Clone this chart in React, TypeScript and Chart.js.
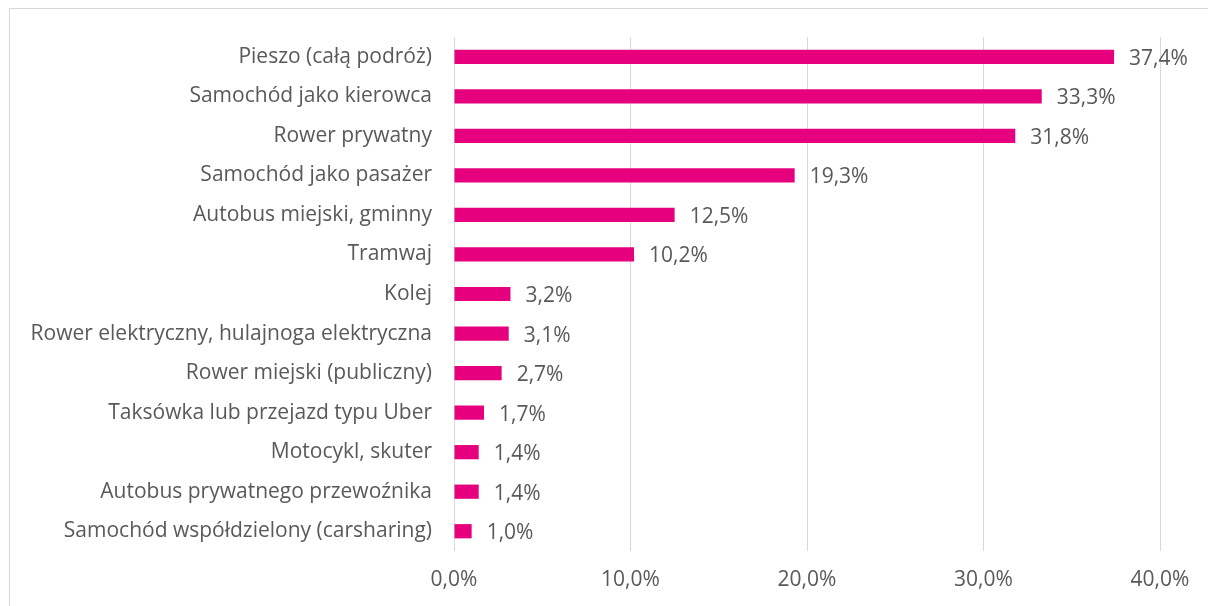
import React, { useEffect, useRef } from "react";
import { Chart, registerables } from "chart.js";

Chart.register(...registerables);

const categories = [
  "Pieszo (całą podróż)",
  "Samochód jako kierowca",
  "Rower prywatny",
  "Samochód jako pasażer",
  "Autobus miejski, gminny",
  "Tramwaj",
  "Kolej",
  "Rower elektryczny, hulajnoga elektryczna",
  "Rower miejski (publiczny)",
  "Taksówka lub przejazd typu Uber",
  "Motocykl, skuter",
  "Autobus prywatnego przewoźnika",
  "Samochód współdzielony (carsharing)",
];

const values = [37.4, 33.3, 31.8, 19.3, 12.5, 10.2, 3.2, 3.1, 2.7, 1.7, 1.4, 1.4, 1.0];

const xTickValues = [0, 10, 20, 30, 40];

const BAR_COLOR = "#E6007E";
const TEXT_COLOR = "#595959";
const GRID_COLOR = "#D9D9D9";
const FONT_FAMILY = "'Open Sans', sans-serif";
const FONT_SIZE = 21;

const fmt = (v: number) => v.toFixed(1).replace(".", ",") + "%";

export default function App() {
  const canvasRef = useRef<HTMLCanvasElement | null>(null);

  useEffect(() => {
    const canvas = canvasRef.current;
    if (!canvas) return;

    const borderPlugin = {
      id: "outerBorder",
      beforeDraw(chart: any) {
        const ctx = chart.ctx;
        ctx.save();
        ctx.fillStyle = "#ffffff";
        ctx.fillRect(0, 0, chart.width, chart.height);
        ctx.strokeStyle = GRID_COLOR;
        ctx.lineWidth = 1;
        ctx.strokeRect(9.5, 8.5, 1300, 800);
        ctx.restore();
      },
    };

    const labelPlugin = {
      id: "barValueLabels",
      afterDatasetsDraw(chart: any) {
        const ctx = chart.ctx;
        const meta = chart.getDatasetMeta(0);
        ctx.save();
        ctx.font = `${FONT_SIZE}px ${FONT_FAMILY}`;
        ctx.fillStyle = TEXT_COLOR;
        ctx.textAlign = "left";
        ctx.textBaseline = "middle";
        meta.data.forEach((bar: any, i: number) => {
          ctx.fillText(fmt(values[i]), bar.x + 15, bar.y + 2);
        });
        ctx.restore();
      },
    };

    const chart = new Chart(canvas, {
      type: "bar",
      data: {
        labels: categories,
        datasets: [
          {
            data: values,
            backgroundColor: BAR_COLOR,
            borderWidth: 0,
            barPercentage: 0.36,
            categoryPercentage: 1,
          },
        ],
      },
      options: {
        indexAxis: "y",
        animation: false,
        responsive: true,
        maintainAspectRatio: false,
        layout: { padding: { left: 0, right: 48, top: 37, bottom: 0 } },
        plugins: {
          legend: { display: false },
          tooltip: { enabled: false },
        },
        scales: {
          x: {
            min: 0,
            max: 40,
            afterBuildTicks(axis: any) {
              axis.ticks = xTickValues.map((v) => ({ value: v }));
            },
            afterFit(axis: any) {
              axis.height = 55;
            },
            grid: {
              color: GRID_COLOR,
              lineWidth: 1,
              drawTicks: false,
            },
            border: { display: false },
            ticks: {
              padding: 16,
              color: TEXT_COLOR,
              font: { family: FONT_FAMILY, size: FONT_SIZE },
              callback: (v: any) => fmt(Number(v)),
            },
          },
          y: {
            afterFit(axis: any) {
              axis.width = 454;
            },
            grid: { display: false, drawTicks: false },
            border: { display: false },
            ticks: {
              padding: 22,
              color: TEXT_COLOR,
              font: { family: FONT_FAMILY, size: FONT_SIZE },
              autoSkip: false,
            },
          },
        },
      },
      plugins: [borderPlugin, labelPlugin],
    });

    return () => chart.destroy();
  }, []);

  return (
    <div style={{ position: "fixed", left: 0, top: 0, width: 1208, height: 606 }}>
      <canvas ref={canvasRef} />
    </div>
  );
}
